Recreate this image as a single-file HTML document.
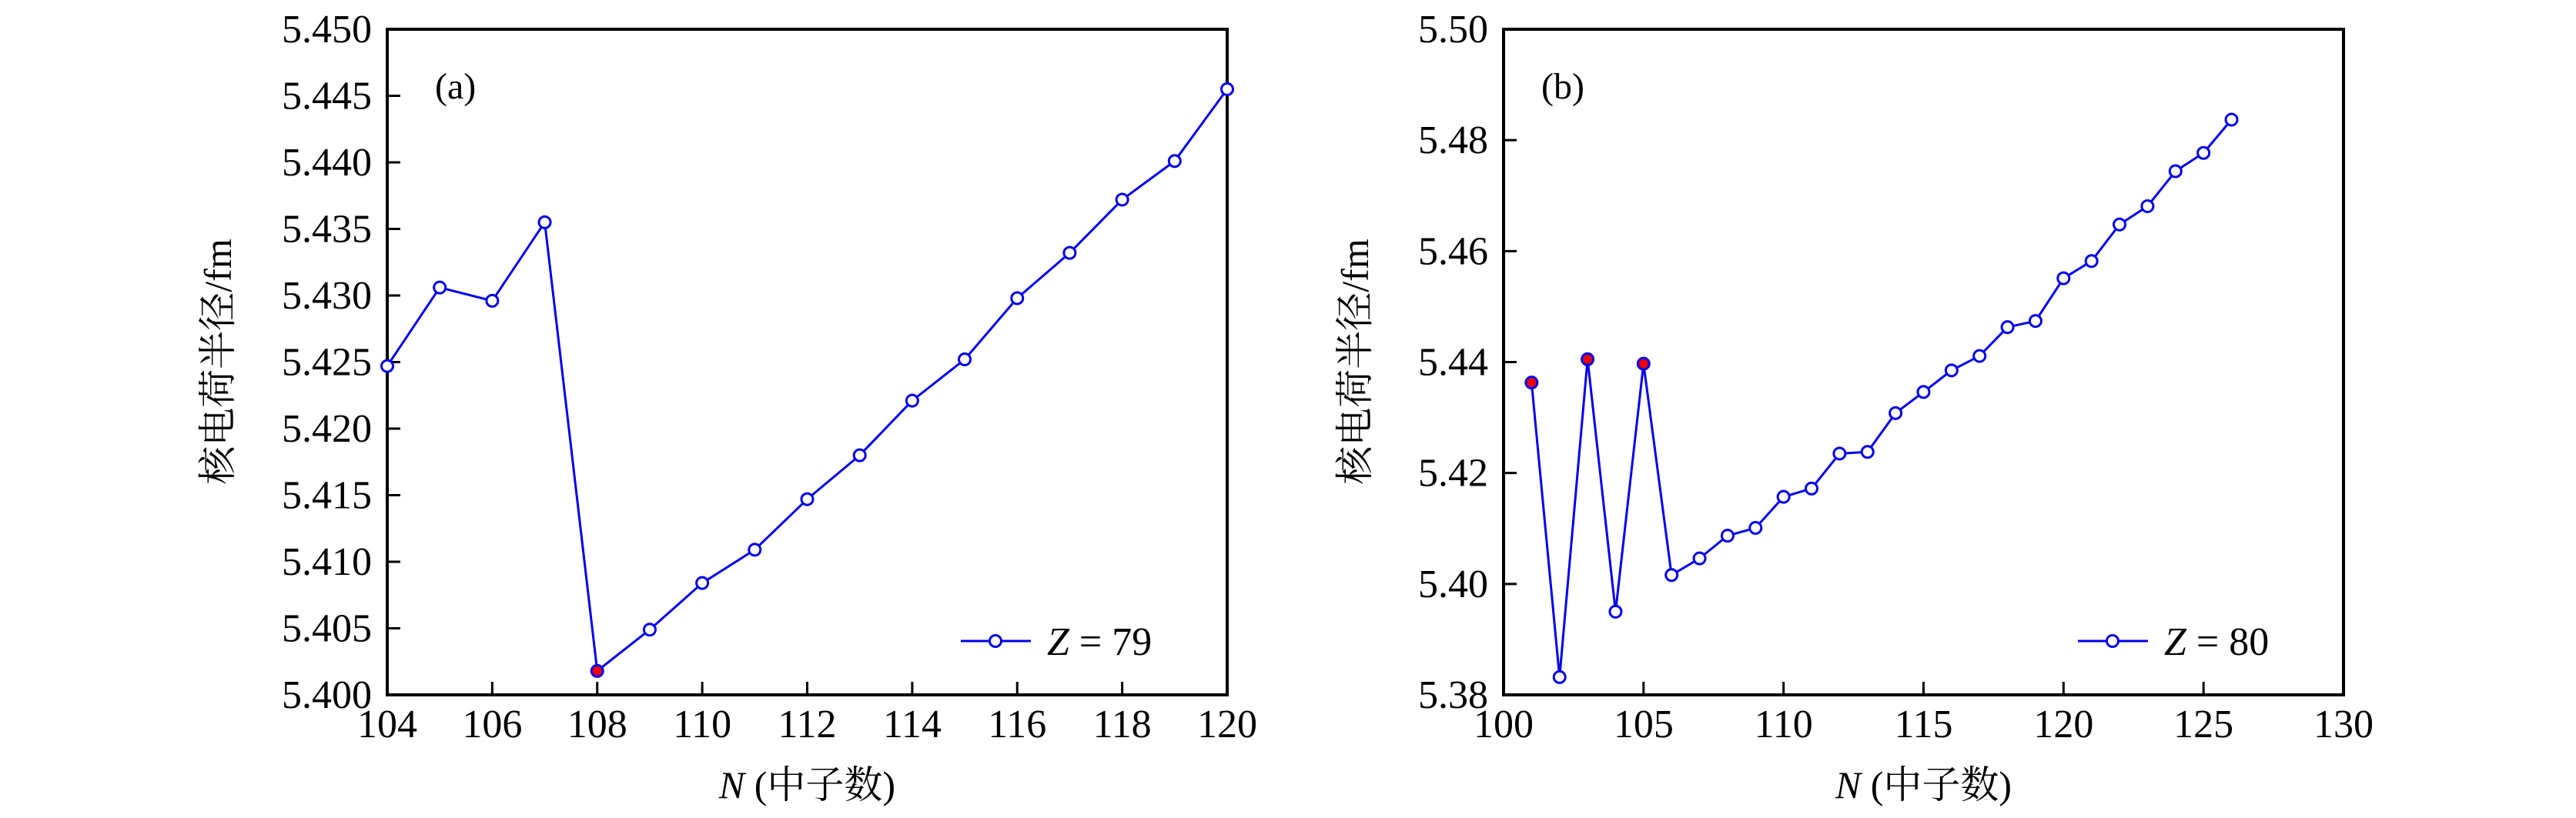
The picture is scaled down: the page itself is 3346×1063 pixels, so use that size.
<!DOCTYPE html>
<html><head><meta charset="utf-8"><style>
html,body{margin:0;padding:0;background:#fff;}
svg{display:block;}
text{font-family:"Liberation Serif","Noto Serif CJK SC",serif;fill:#000;}
</style></head><body>
<svg id="chart" width="3346" height="1063" viewBox="0 0 3346 1063" xmlns="http://www.w3.org/2000/svg"></svg>
<script>
const categoriesA = [104,105,106,107,108,109,110,111,112,113,114,115,116,117,118,119,120];
const valuesA = [5.4247,5.4306,5.4296,5.4355,5.4018,5.4049,5.4084,5.4109,5.4147,5.4180,5.4221,5.4252,5.4298,5.4332,5.4372,5.4401,5.4455];
const redA = [108];
const xTicksA = [104,106,108,110,112,114,116,118,120];
const yTicksA = ["5.400","5.405","5.410","5.415","5.420","5.425","5.430","5.435","5.440","5.445","5.450"];

const categoriesB = [101,102,103,104,105,106,107,108,109,110,111,112,113,114,115,116,117,118,119,120,121,122,123,124,125,126];
const valuesB = [5.4363,5.3832,5.4405,5.3950,5.4397,5.4016,5.4046,5.4087,5.4101,5.4157,5.4172,5.4235,5.4238,5.4308,5.4346,5.4385,5.4411,5.4463,5.4474,5.4551,5.4582,5.4648,5.4681,5.4744,5.4777,5.4837];
const redB = [101,103,105];
const xTicksB = [100,105,110,115,120,125,130];
const yTicksB = ["5.38","5.40","5.42","5.44","5.46","5.48","5.50"];

const NS = "http://www.w3.org/2000/svg";
const svg = document.getElementById('chart');
function mk(tag, attrs, parent){
  const e = document.createElementNS(NS, tag);
  for (const k in attrs) e.setAttribute(k, attrs[k]);
  (parent||svg).appendChild(e);
  return e;
}

function panel(cfg){
  const g = mk('g', {});
  
  
  const L=cfg.left,R=cfg.right,T=38,B=903;
  const xs = v => L + (v-cfg.xmin)/(cfg.xmax-cfg.xmin)*(R-L);
  const ys = v => B - (v-cfg.ymin)/(cfg.ymax-cfg.ymin)*(B-T);
  const frame = mk('rect', {x:L,y:T,width:R-L,height:B-T,fill:'none',stroke:'#000','stroke-width':4}, g);
  
  
  cfg.xTicks.forEach(t=>{
    const x = xs(t);
    const tk = mk('line', {x1:x,x2:x,y1:B,y2:B-17,stroke:'#000','stroke-width':3}, g);
    
    
    const lb = mk('text', {x:x,y:958,'font-size':52,'text-anchor':'middle'}, g);
    lb.textContent = t;
    
    
  });
  cfg.yTicks.forEach(t=>{
    const y = ys(parseFloat(t));
    const tk = mk('line', {x1:L,x2:L+17,y1:y,y2:y,stroke:'#000','stroke-width':3}, g);
    
    
    const lb = mk('text', {x:L-20,y:y+17,'font-size':52,'text-anchor':'end'}, g);
    lb.textContent = t;
    
    
  });
  const pts = cfg.cats.map((c,i)=>xs(c)+','+ys(cfg.vals[i])).join(' ');
  const line = mk('polyline', {points:pts,fill:'none',stroke:'#0000ee','stroke-width':3}, g);
  
  
  cfg.cats.forEach((c,i)=>{
    const red = cfg.red.indexOf(c)>=0;
    const m = mk('circle', {cx:xs(c),cy:ys(cfg.vals[i]),r:7.5,fill:red?'#ee0000':'#fff',stroke:'#0000ee','stroke-width':3}, g);
    
    
  });
  const tag = mk('text', {x:cfg.tagX,y:128,'font-size':48}, g);
  tag.textContent = cfg.tag;
  
  
  const yl = mk('text', {x:0,y:0,'font-size':50,'text-anchor':'middle',transform:`translate(${cfg.ylx},470) rotate(-90)`}, g);
  yl.textContent = '核电荷半径/fm';
  
  
  const xl = mk('text', {x:(L+R)/2,y:1037,'font-size':50,'text-anchor':'middle'}, g);
  xl.innerHTML = '<tspan font-style="italic">N</tspan> (中子数)';
  
  
  const lg = mk('g', {}, g);
  
  
  mk('line', {x1:cfg.legX,x2:cfg.legX+91,y1:833,y2:833,stroke:'#0000ee','stroke-width':3}, lg);
  mk('circle', {cx:cfg.legX+45,cy:833,r:7.5,fill:'#fff',stroke:'#0000ee','stroke-width':3}, lg);
  const lt = mk('text', {x:cfg.legX+112,y:851,'font-size':52}, lg);
  lt.innerHTML = '<tspan font-style="italic">Z</tspan> = ' + cfg.z;
}

panel({name:'panel-a',left:503,right:1594,xmin:104,xmax:120,ymin:5.400,ymax:5.450,cats:categoriesA,vals:valuesA,red:redA,xTicks:xTicksA,yTicks:yTicksA,tag:'(a)',tagX:565,ylx:300,legX:1248,z:79});
panel({name:'panel-b',left:1953,right:3044,xmin:100,xmax:130,ymin:5.38,ymax:5.50,cats:categoriesB,vals:valuesB,red:redB,xTicks:xTicksB,yTicks:yTicksB,tag:'(b)',tagX:2002,ylx:1777,legX:2699,z:80});
</script>
</body></html>
